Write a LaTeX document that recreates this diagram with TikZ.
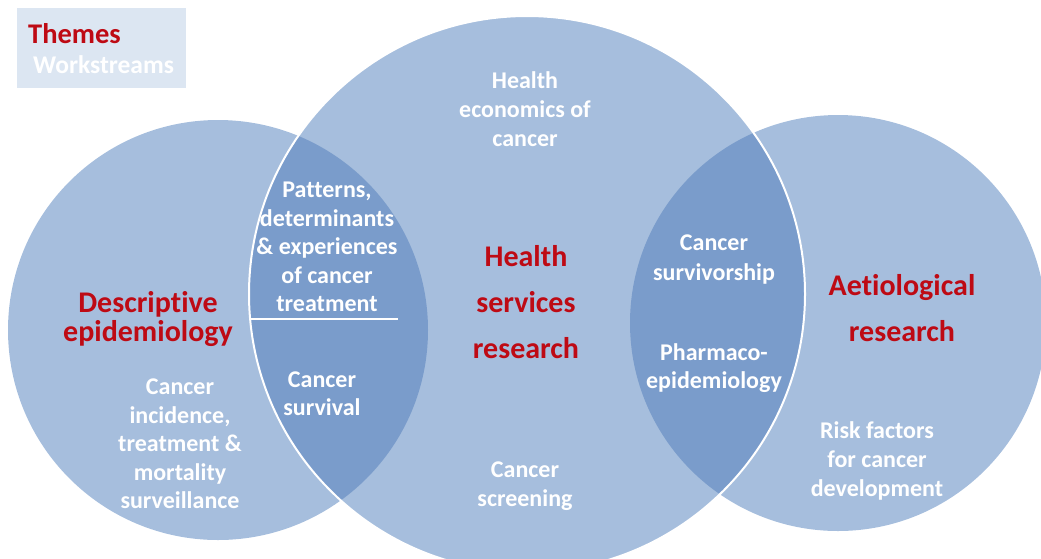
\documentclass[tikz,border=0pt]{standalone}
\usepackage{fontspec}
\setmainfont[Ligatures=NoCommon]{Carlito}
\definecolor{circ}{HTML}{A6BEDD}
\definecolor{lensc}{HTML}{7A9CCB}
\definecolor{redc}{HTML}{BE0A14}
\definecolor{boxc}{HTML}{DCE6F2}
\begin{document}
\begin{tikzpicture}[x=1pt,y=-1pt,
  disc/.style={circle, fill=circ, inner sep=0pt, draw=none},
  wt/.style={text=white, align=center, inner sep=0pt, font=\fontsize{24}{28.5}\selectfont\bfseries},
  rt/.style={text=redc, align=center, inner sep=0pt, font=\fontsize{30}{29}\selectfont\bfseries},
  rtw/.style={text=redc, align=center, inner sep=0pt, font=\fontsize{30}{46}\selectfont\bfseries},
  divider/.style={white, line width=2pt}]
\useasboundingbox (0,0) rectangle (1041,558);
% legend box
\node[fill=boxc, minimum width=169pt, minimum height=80pt, inner sep=0pt] (legend) at (101.5,48) {};
\node[anchor=base west, text=redc, inner sep=0pt, font=\fontsize{28.5}{28}\selectfont\bfseries] (themes) at (28,43) {Themes};
\node[anchor=base west, text=white, inner sep=0pt, font=\fontsize{25.5}{28}\selectfont\bfseries] (workstreams) at (33,73) {Workstreams};
% circles
\node[disc, minimum size=420pt] (L) at (218,330) {};
\node[disc, minimum size=416pt] (R) at (838,323) {};
\node[disc, minimum size=556pt] (M) at (527,294) {};
% lenses
\begin{scope}
  \clip (L.center) circle[radius=210pt];
  \fill[lensc] (M.center) circle[radius=278pt];
\end{scope}
\begin{scope}
  \clip (R.center) circle[radius=208pt];
  \fill[lensc] (M.center) circle[radius=278pt];
\end{scope}
\draw[white, line width=2pt] (M.center) circle[radius=278pt];
% divider in left lens
\coordinate (d1) at (251,319);
\coordinate (d2) at (398,319);
\draw[divider] (d1) -- (d2);
% texts
\node[wt, font=\fontsize{24}{29}\selectfont\bfseries] (econ) at (525,109) {Health\\economics of\\cancer};
\node[wt] (patterns) at (327,247) {Patterns,\\determinants\\\& experiences\\of cancer\\treatment};
\node[wt] (survival) at (322,393.5) {Cancer\\survival};
\node[wt] (incidence) at (180,444) {Cancer\\incidence,\\treatment \&\\mortality\\surveillance};
\node[rt] (desc) at (148,319) {Descriptive\\epidemiology};
\node[rtw] (hsr) at (526,302.5) {Health\\services\\research};
\node[wt, font=\fontsize{24}{29.5}\selectfont\bfseries] (surv) at (714,259.5) {Cancer\\survivorship};
\node[wt] (pharma) at (714,368) {Pharmaco-\\epidemiology};
\node[rtw] (aet) at (902,308) {Aetiological\\research};
\node[wt, font=\fontsize{24}{29}\selectfont\bfseries] (risk) at (877,460.5) {Risk factors\\for cancer\\development};
\node[wt, font=\fontsize{24}{29}\selectfont\bfseries] (screen) at (525,486) {Cancer\\screening};
\end{tikzpicture}
\end{document}
